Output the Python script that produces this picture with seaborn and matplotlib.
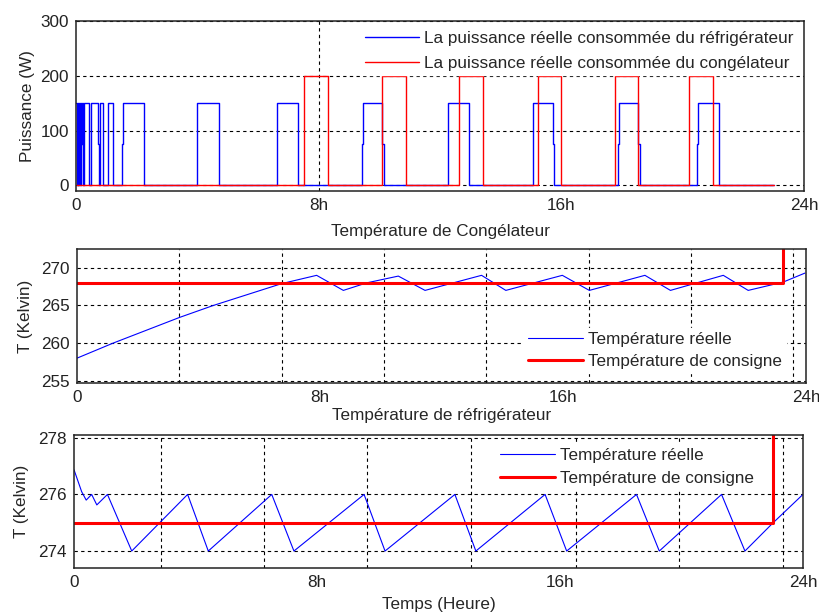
import matplotlib
matplotlib.use("Agg")
import matplotlib.pyplot as plt
import pandas as pd
import seaborn as sns

# ---- Power drawn by each appliance (W), step changes over time (h) ----
fridge_power_t = [0.0, 0.03, 0.05, 0.08, 0.10, 0.13, 0.15, 0.17, 0.19, 0.24, 0.25, 0.44, 0.48,
                  0.74, 0.76, 0.79, 0.90, 1.06, 1.21, 1.51, 1.56, 2.24, 3.98, 4.71, 6.64, 7.31,
                  9.42, 9.47, 10.10, 10.15, 12.25, 12.94, 15.05, 15.08, 15.72, 15.77, 17.86,
                  17.90, 18.53, 18.59, 20.46, 20.51, 21.20, 23.00]
fridge_power_w = [150, 0, 150, 0, 150, 0, 150, 75, 150, 0, 150, 0, 150,
                  75, 0, 150, 0, 150, 0, 75, 150, 0, 150, 0, 150, 0,
                  75, 150, 75, 0, 150, 0, 75, 150, 75, 0, 75,
                  150, 75, 0, 75, 150, 0, 0]

freezer_power_t = [0.0, 7.50, 8.32, 10.08, 10.87, 12.64, 13.42, 15.22, 15.98, 17.78, 18.54,
                   20.20, 21.00, 23.00]
freezer_power_w = [0, 200, 0, 200, 0, 200, 0, 200, 0, 200, 0, 200, 0, 0]

# ---- Freezer temperature (K) ----
freezer_temp_t = [0.0, 1.19, 3.37, 4.49, 6.74, 7.89, 8.77, 9.54, 10.58, 11.46, 13.32, 14.12,
                  15.98, 16.87, 18.70, 19.54, 21.28, 22.10, 23.25, 23.97]
freezer_temp_k = [258.0, 260.0, 263.4, 265.0, 267.9, 269.0, 267.0, 268.0, 268.9, 267.0, 269.0,
                  267.0, 269.0, 267.0, 269.0, 267.0, 269.0, 267.0, 268.1, 269.3]
freezer_set_t = [0.0, 23.25, 23.25]
freezer_set_k = [268.0, 268.0, 280.0]

# ---- Refrigerator temperature (K) ----
fridge_temp_t = [0.0, 0.25, 0.40, 0.58, 0.75, 1.10, 1.90, 3.74, 4.42, 6.51, 7.24, 9.55, 10.24,
                 12.54, 13.23, 15.51, 16.22, 18.52, 19.27, 21.32, 22.09, 23.00, 24.00]
fridge_temp_k = [276.87, 276.1, 275.8, 276.0, 275.63, 276.0, 274.0, 276.0, 274.0, 276.0, 274.0,
                 276.0, 274.0, 276.0, 274.0, 276.0, 274.0, 276.0, 274.0, 276.0, 274.0, 274.98,
                 276.0]
fridge_set_t = [0.0, 23.0, 23.0]
fridge_set_k = [275.0, 275.0, 285.0]

# ---- Axis ticks ----
hour_pos = [0, 8, 16, 24]
hour_labels = ["0", "8h", "16h", "24h"]
power_ticks = [0, 100, 200, 300]
freezer_yticks = [255, 260, 265, 270]
fridge_yticks = [274, 276, 278]
freezer_xgrid = [3.37, 6.74, 10.11, 13.48, 16.85, 20.22, 23.59]
fridge_xgrid = [2.85, 6.26, 9.66, 13.07, 16.52, 19.93, 23.33]

sns.set_theme(style="white")
plt.rcParams["font.family"] = ["Liberation Sans", "DejaVu Sans"]
FS = 12.3
plt.rcParams["font.size"] = FS

BLUE = "#0000ff"
RED = "#ff0000"
DASH = (0, (3, 3))
INK = "#222222"

fig = plt.figure(figsize=(8.19, 6.14), dpi=100)
ax1 = fig.add_axes([0.0928, 0.689, 0.889, 0.2768])
ax2 = fig.add_axes([0.0940, 0.3762, 0.890, 0.2183])
ax3 = fig.add_axes([0.0904, 0.0749, 0.890, 0.2166])


def style_frame(ax):
    for s in ax.spines.values():
        s.set_color(INK)
        s.set_linewidth(1.1)
        s.set_zorder(6)
    ax.tick_params(which="major", direction="in", length=4, width=0.9, colors=INK,
                   labelsize=FS, labelcolor=INK)
    ax.tick_params(axis="x", which="major", pad=5)
    ax.tick_params(axis="y", which="major", pad=5)


# ---- Panel 1: power ----
p_fridge = pd.DataFrame({"t": fridge_power_t, "w": fridge_power_w})
p_freezer = pd.DataFrame({"t": freezer_power_t, "w": freezer_power_w})
sns.lineplot(data=p_fridge, x="t", y="w", ax=ax1, color=BLUE, lw=1.0, estimator=None,
             sort=False, drawstyle="steps-post",
             label="La puissance réelle consommée du réfrigérateur")
sns.lineplot(data=p_freezer, x="t", y="w", ax=ax1, color=RED, lw=1.0, estimator=None,
             sort=False, drawstyle="steps-post",
             label="La puissance réelle consommée du congélateur")
ax1.set_xlim(0, 24)
ax1.set_ylim(-10, 300)
ax1.set_yticks(power_ticks)
ax1.set_xticks(hour_pos)
ax1.set_xticklabels(hour_labels)
ax1.grid(True, axis="y", color="black", lw=0.8, ls=DASH)
ax1.axvline(8, color="black", lw=0.8, ls=DASH, zorder=0.5)
ax1.set_ylabel("Puissance (W)", fontsize=FS, labelpad=4)
ax1.set_xlabel("Température de Congélateur", fontsize=FS, labelpad=8)
style_frame(ax1)
ax1.legend(loc="upper right", bbox_to_anchor=(1.0, 1.0), frameon=True, facecolor="white",
           edgecolor="white", framealpha=1, fontsize=FS, handlelength=3.2,
           labelspacing=0.55, borderaxespad=0.35, borderpad=0.25, handletextpad=0.3)


def temp_panel(ax, t, k, st, sk, yticks, ylim, xgrid, ylabel, xlabel, ylabelpad,
               xlabelpad, legend_kw):
    d_real = pd.DataFrame({"t": t, "k": k})
    d_set = pd.DataFrame({"t": st, "k": sk})
    sns.lineplot(data=d_real, x="t", y="k", ax=ax, color=BLUE, lw=0.8, estimator=None,
                 sort=False, label="Température réelle")
    sns.lineplot(data=d_set, x="t", y="k", ax=ax, color=RED, lw=2.2, estimator=None,
                 sort=False, label="Température de consigne")
    ax.set_xlim(0, 24)
    ax.set_ylim(*ylim)
    ax.set_yticks(yticks)
    ax.set_xticks(xgrid)
    ax.set_xticklabels([])
    ax.set_xticks(hour_pos, minor=True)
    ax.set_xticklabels(hour_labels, minor=True)
    ax.tick_params(axis="x", which="minor", length=0, labelsize=FS, pad=5,
                   labelcolor=INK)
    ax.grid(True, which="major", color="black", lw=0.8, ls=DASH)
    ax.set_ylabel(ylabel, fontsize=FS, labelpad=ylabelpad)
    ax.set_xlabel(xlabel, fontsize=FS, labelpad=xlabelpad)
    style_frame(ax)
    ax.legend(frameon=True, facecolor="white", edgecolor="white", framealpha=1, fontsize=FS,
              handlelength=3.2, handletextpad=0.3, borderpad=0.25, **legend_kw)


temp_panel(ax2, freezer_temp_t, freezer_temp_k, freezer_set_t, freezer_set_k,
           freezer_yticks, (254.7, 272.5), freezer_xgrid, "T (Kelvin)",
           "Température de réfrigérateur", 6, 2,
           dict(loc="lower right", bbox_to_anchor=(0.985, 0.01), labelspacing=0.38))

temp_panel(ax3, fridge_temp_t, fridge_temp_k, fridge_set_t, fridge_set_k,
           fridge_yticks, (273.4, 278.1), fridge_xgrid, "T (Kelvin)",
           "Temps (Heure)", 7, 5,
           dict(loc="upper right", bbox_to_anchor=(0.95, 1.0), labelspacing=0.45))

fig.savefig("out.png", dpi=100)
